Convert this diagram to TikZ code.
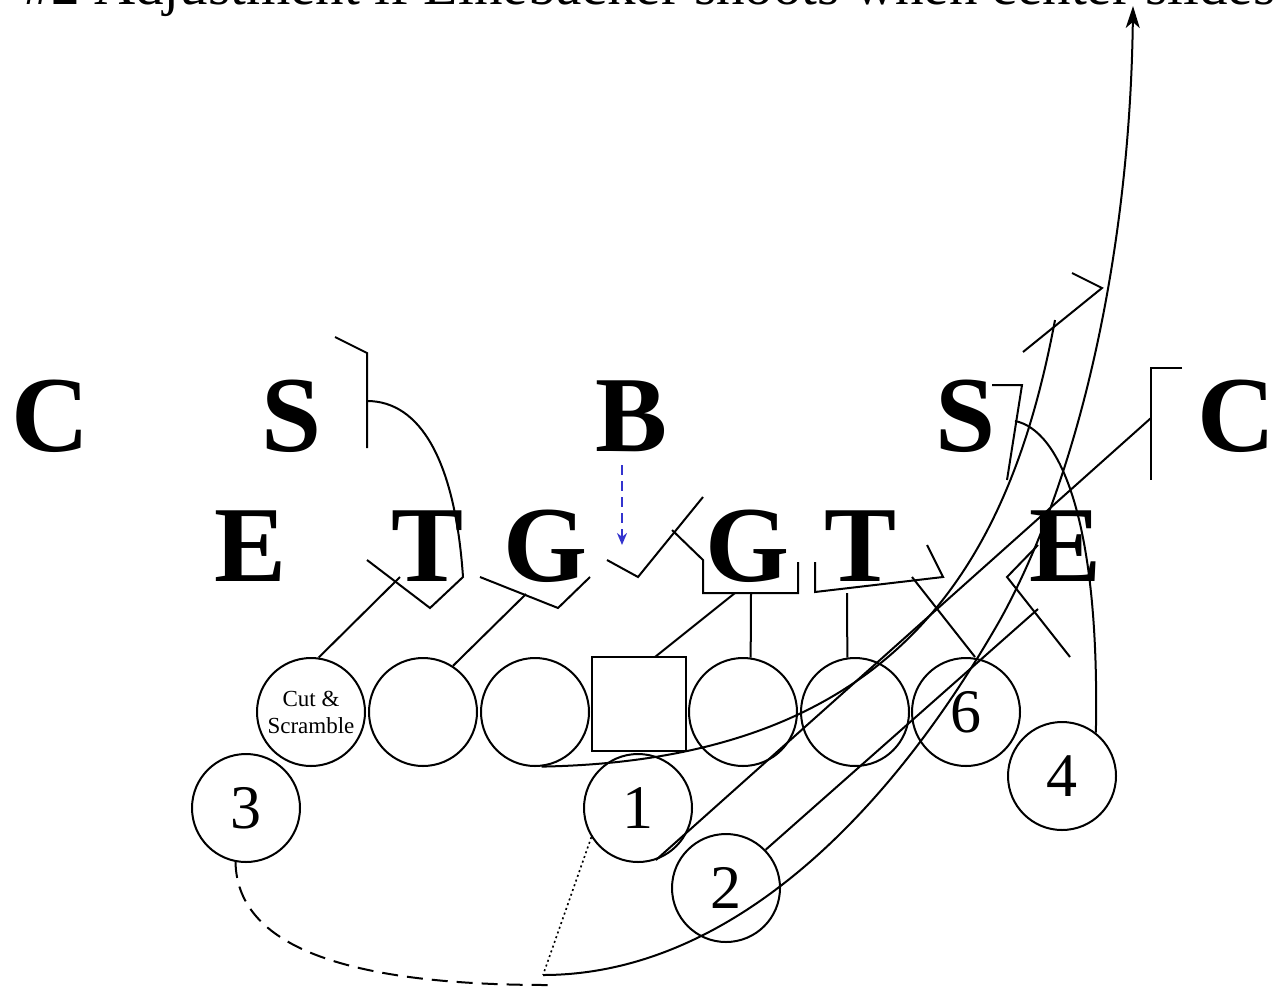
\documentclass[tikz,border=0pt]{standalone}
\usepackage{fontspec}
\setmainfont{Liberation Serif}
\usetikzlibrary{arrows.meta}
\usetikzlibrary{calc}

\definecolor{blitzblue}{RGB}{52,52,206}

\tikzset{
  defender/.style={anchor=base, inner sep=0pt, font=\fontsize{108}{108}\selectfont\bfseries},
  player/.style={circle, draw, minimum size=108pt, inner sep=0pt, font=\fontsize{62}{62}\selectfont},
  snapper/.style={rectangle, draw, minimum size=94pt, inner sep=0pt},
  longdash/.style={dash pattern=on 16pt off 9pt},
  dropdots/.style={line width=1.6pt, dash pattern=on 2pt off 3pt}
}

\begin{document}
\begin{tikzpicture}[x=1pt, y=-1pt, line width=2pt]
            \useasboundingbox (0,0) rectangle (1273,993);
            \node[anchor=base west, inner sep=0pt, font=\fontsize{57}{57}\selectfont] (title) at (22,5)
                {\#2 Adjustment if Linebacker shoots when center slides};

            \node[defender] (cl) at (50,451) {C};
            \node[defender] (sl) at (292,451) {S};
            \node[defender] (b) at (632,451) {B};
            \node[defender] (sr) at (966,451) {S};
            \node[defender] (cr) at (1236,451) {C};
            \node[defender] (el) at (251,581) {E};
            \node[defender] (tl) at (428,581) {T};
            \node[defender] (gl) at (545,581) {G};
            \node[defender] (gr) at (747,581) {G};
            \node[defender] (tr) at (861,581) {T};
            \node[defender] (er) at (1066,581) {E};

            \node[player, font=\fontsize{23}{27}\selectfont, align=center] (la) at (311,712) {Cut \&\\Scramble};
            \node[player] (lb) at (423,712) {};
            \node[player] (lc) at (535,712) {};
            \node[snapper] (ctr) at (639,704) {};
            \node[player] (ra) at (743,712) {};
            \node[player] (rb) at (855,712) {};
            \node[player] (six) at (966,712) {6};
            \node[player] (four) at (1062,776) {4};
            \node[player] (three) at (246,808) {3};
            \node[player] (one) at (638,808) {1};
            \node[player] (two) at (726,888) {2};
            \coordinate (drop) at (543,975);

            \draw (335,337) -- (367,353) -- (367,448);
            \draw (367,401) .. controls (420,401) and (455,460) .. (463,577) -- (430,608) -- (367,560);
            \draw (la.82) -- (400,577);
            \draw (lb.57) -- (526,594);
            \draw (480,577) -- (558,608) -- (590,577);
            \draw[blitzblue, line width=2.2pt, dash pattern=on 10pt off 6pt, -{Stealth[length=12pt, width=10pt]}]
                (622,465) -- (622,545);

            \draw (607,560) -- (638,577) -- (703,497);
            \draw (672,530) -- (703,560) -- (703,593) -- (798,593) -- (798,562);
            \draw (655,657) -- (735,593);
            \draw (ra.82) -- (751,593);
            \draw (rb.98) -- (847,593);
            \draw (815,562) -- (815,592) -- (943,577) -- (927,545);
            \draw (912,577) -- (975,657);

            \draw (992,385) -- (1022,385) -- (1007,480);
            \draw (four.52) .. controls (1100,520) and (1060,430) .. (1015,421);
            \draw (1182,368) -- (1151,368) -- (1151,480);
            \draw (one.-71) -- (1151,418);
            \draw (two.44) -- (1038,609);
            \draw (1038,545) -- (1007,577) -- (1070,657);
            \draw (lc.-83) .. controls (900,760) and (1010,560) .. (1055,320);
            \draw (1023,352) -- (1102,288) -- (1072,273);

            \draw[dropdots] (one.212) -- (drop);
            \draw[longdash] (three.-101) .. controls (237,940) and (330,985) .. (548,985);
            \draw[-{Stealth[length=22pt, width=14pt, inset=6pt]}] (drop) .. controls (720,975) and (880,830) .. (1000,620)
                .. controls (1080,476) and (1130,250) .. (1133,6);
        \end{tikzpicture}
\end{document}
